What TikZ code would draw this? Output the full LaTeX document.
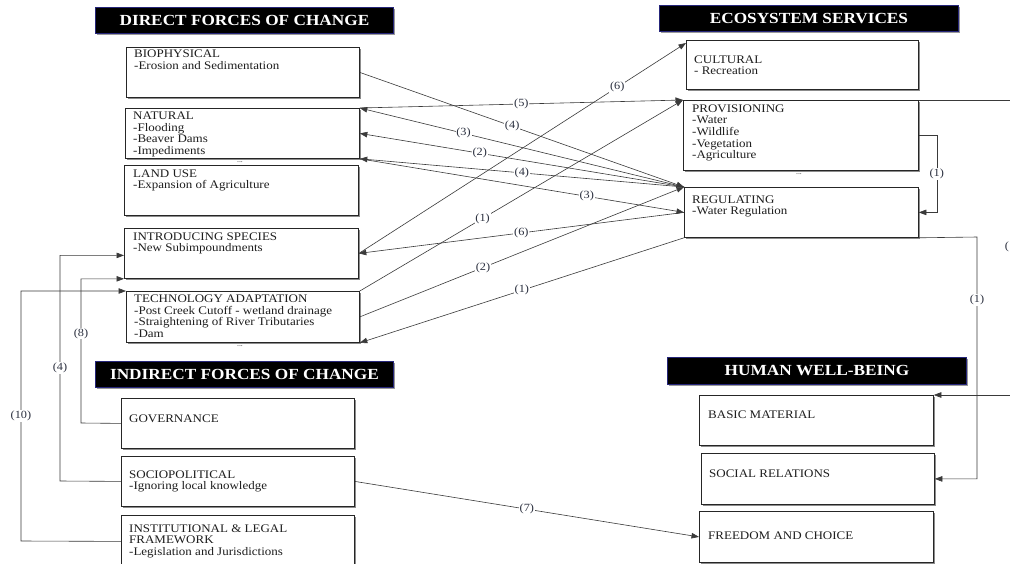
\documentclass[tikz,border=0pt]{standalone}
\usepackage{fontspec}
\setmainfont{Liberation Serif}[FakeStretch=1.12]
\usetikzlibrary{arrows.meta,shadows}
\definecolor{ink}{HTML}{1E1E1E}
\definecolor{wire}{HTML}{3A3A3A}
\definecolor{navy}{HTML}{26267A}
\definecolor{tag}{HTML}{2C3140}
\tikzset{
  box/.style 2 args={draw=black!85, line width=0.8pt, fill=white,
    minimum width=#1pt, minimum height=#2pt, anchor=north west, inner sep=0pt,
    drop shadow={shadow xshift=1.6pt, shadow yshift=-1.6pt, fill=black!45, opacity=1}},
  boxtext/.style={anchor=north west, inner sep=0pt, align=left, text=ink,
    font=\fontsize{11.6}{11.6}\selectfont},
  heading/.style 2 args={draw=navy, line width=0.9pt, fill=black,
    minimum width=#1pt, minimum height=#2pt, anchor=north west, inner sep=0pt,
    text=white, font=\bfseries\fontsize{15.4}{15.4}\selectfont,
    drop shadow={shadow xshift=2pt, shadow yshift=-2pt, fill=black!40, opacity=1}},
  wire/.style={draw=wire, line width=0.6pt},
  arr/.style={-{Triangle[length=7.5pt,width=5.5pt]}},
  tagl/.style={fill=white, inner sep=0.8pt, text=tag, font=\fontsize{11}{11}\selectfont},
  dots/.style={anchor=base, inner sep=0pt, text=ink, font=\fontsize{7}{7}\selectfont},
}
\begin{document}
\begin{tikzpicture}[x=1pt, y=-1pt]
\clip (0,0) rectangle (1010,563);
\fill[white] (0,0) rectangle (1010,563);

% section headings
\node[heading={298}{26}] (hdirect) at (95,7) {DIRECT FORCES OF CHANGE};
\node[heading={299}{26}] (heco) at (659,5) {ECOSYSTEM SERVICES};
\node[heading={298}{26}] (hindirect) at (95,361) {INDIRECT FORCES OF CHANGE};
\node[heading={299}{27}] (hhuman) at (667,357) {HUMAN WELL-BEING};

% direct forces
\node[box={233}{50}] (bio) at (126,47) {};
\node[box={234}{50}] (nat) at (125,108) {};
\node[box={234}{50}] (land) at (124,165) {};
\node[box={234}{50}] (intro) at (124,228) {};
\node[box={233}{51}] (tech) at (126,291) {};
% indirect forces
\node[box={233}{50}] (gov) at (121,398) {};
\node[box={233}{50}] (socio) at (121,456) {};
\node[box={233}{52}] (inst) at (121,515) {};
% ecosystem services
\node[box={232}{49}] (cult) at (686,40) {};
\node[box={235}{70}] (prov) at (683,100) {};
\node[box={234}{50}] (reg) at (684,187) {};
% human well-being
\node[box={234}{50}] (basic) at (699,395) {};
\node[box={233}{51}] (soc) at (701,453) {};
\node[box={234}{51}] (free) at (699,511) {};

% box contents
\node[boxtext] (bio-t) at (134,49.6) {BIOPHYSICAL\\-Erosion and Sedimentation};
\node[boxtext] (nat-t) at (133,111.6) {NATURAL\\-Flooding\\-Beaver Dams\\-Impediments};
\node[boxtext] (land-t) at (133,169.2) {LAND USE\\-Expansion of Agriculture};
\node[boxtext] (intro-t) at (133,232.2) {INTRODUCING SPECIES\\-New Subimpoundments};
\node[boxtext] (tech-t) at (134,294.8) {TECHNOLOGY ADAPTATION\\-Post Creek Cutoff - wetland drainage\\-Straightening of River Tributaries\\-Dam};
\node[boxtext] (gov-t) at (129,414.4) {GOVERNANCE};
\node[boxtext] (socio-t) at (129,470.4) {SOCIOPOLITICAL\\-Ignoring local knowledge};
\node[boxtext] (inst-t) at (129,524.4) {INSTITUTIONAL \& LEGAL\\FRAMEWORK\\-Legislation and Jurisdictions};
\node[boxtext] (cult-t) at (694,55.4) {CULTURAL\\- Recreation};
\node[boxtext] (prov-t) at (692,104.4) {PROVISIONING\\-Water\\-Wildlife\\-Vegetation\\-Agriculture};
\node[boxtext] (reg-t) at (692,195.4) {REGULATING\\-Water Regulation};
\node[boxtext] (basic-t) at (708,410.4) {BASIC MATERIAL};
\node[boxtext] (soc-t) at (709,469.4) {SOCIAL RELATIONS};
\node[boxtext] (free-t) at (708,531.4) {FREEDOM AND CHOICE};

\node[dots] (nat-d) at (240,162) {...};
\node[dots] (prov-d) at (799,174) {...};
\node[dots] (tech-d) at (240,346) {...};

% links between direct forces and ecosystem services
\draw[wire,arr] (bio.east) -- node[tagl,pos=0.47]{(4)} (reg.north west);
\draw[wire,arr] (nat.north east) -- node[tagl,pos=0.5]{(5)} (prov.north west);
\draw[wire,arr] (reg.north west) -- node[tagl,pos=0.68]{(3)} (nat.north east);
\draw[wire,arr] (reg.north west) -- node[tagl,pos=0.63]{(2)} (nat.east);
\draw[wire,arr] (reg.north west) -- node[tagl,pos=0.5]{(4)} (nat.south east);
\draw[wire,arr] (nat.south east) -- node[tagl,pos=0.7]{(3)} (reg.west);
\draw[wire,arr] (reg.west) -- node[tagl,pos=0.5]{(6)} (intro.east);
\draw[wire,arr] (intro.east) -- node[tagl,pos=0.79]{(6)} ([yshift=-3pt]cult.north west);
\draw[wire,arr] (tech.north east) -- node[tagl,pos=0.38]{(1)} (prov.north west);
\draw[wire,arr] (tech.east) -- node[tagl,pos=0.38]{(2)} (reg.north west);
\draw[wire,arr] (reg.south west) -- node[tagl,pos=0.5]{(1)} (tech.south east);

% links among ecosystem services and to human well-being
\draw[wire,arr] (prov.east) -- ++(18,0) |- node[tagl,pos=0.25]{(1)} (reg.east);
\draw[wire,arr] (reg.south east) -- (977,237) |- node[tagl,pos=0.13]{(1)} (soc.east);
\draw[wire,arr] (prov.north east) -- (1013,100) |- (basic.north east);
\node[tagl] (prov-basic-t) at (1007,247) {(};
\draw[wire,arr] (socio.east) -- node[tagl,pos=0.5]{(7)} (free.west);

% links from indirect to direct forces
\draw[wire,arr] (socio.west) -- (60,481) |- node[tagl,pos=0.25]{(4)} ([yshift=-2pt]intro.west);
\draw[wire,arr] (gov.west) -- (81,423) |- node[tagl,pos=0.31]{(8)} (intro.south west);
\draw[wire,arr] (inst.west) -- (21,541) |- node[tagl,pos=0.25]{(10)} (tech.north west);
\end{tikzpicture}
\end{document}
